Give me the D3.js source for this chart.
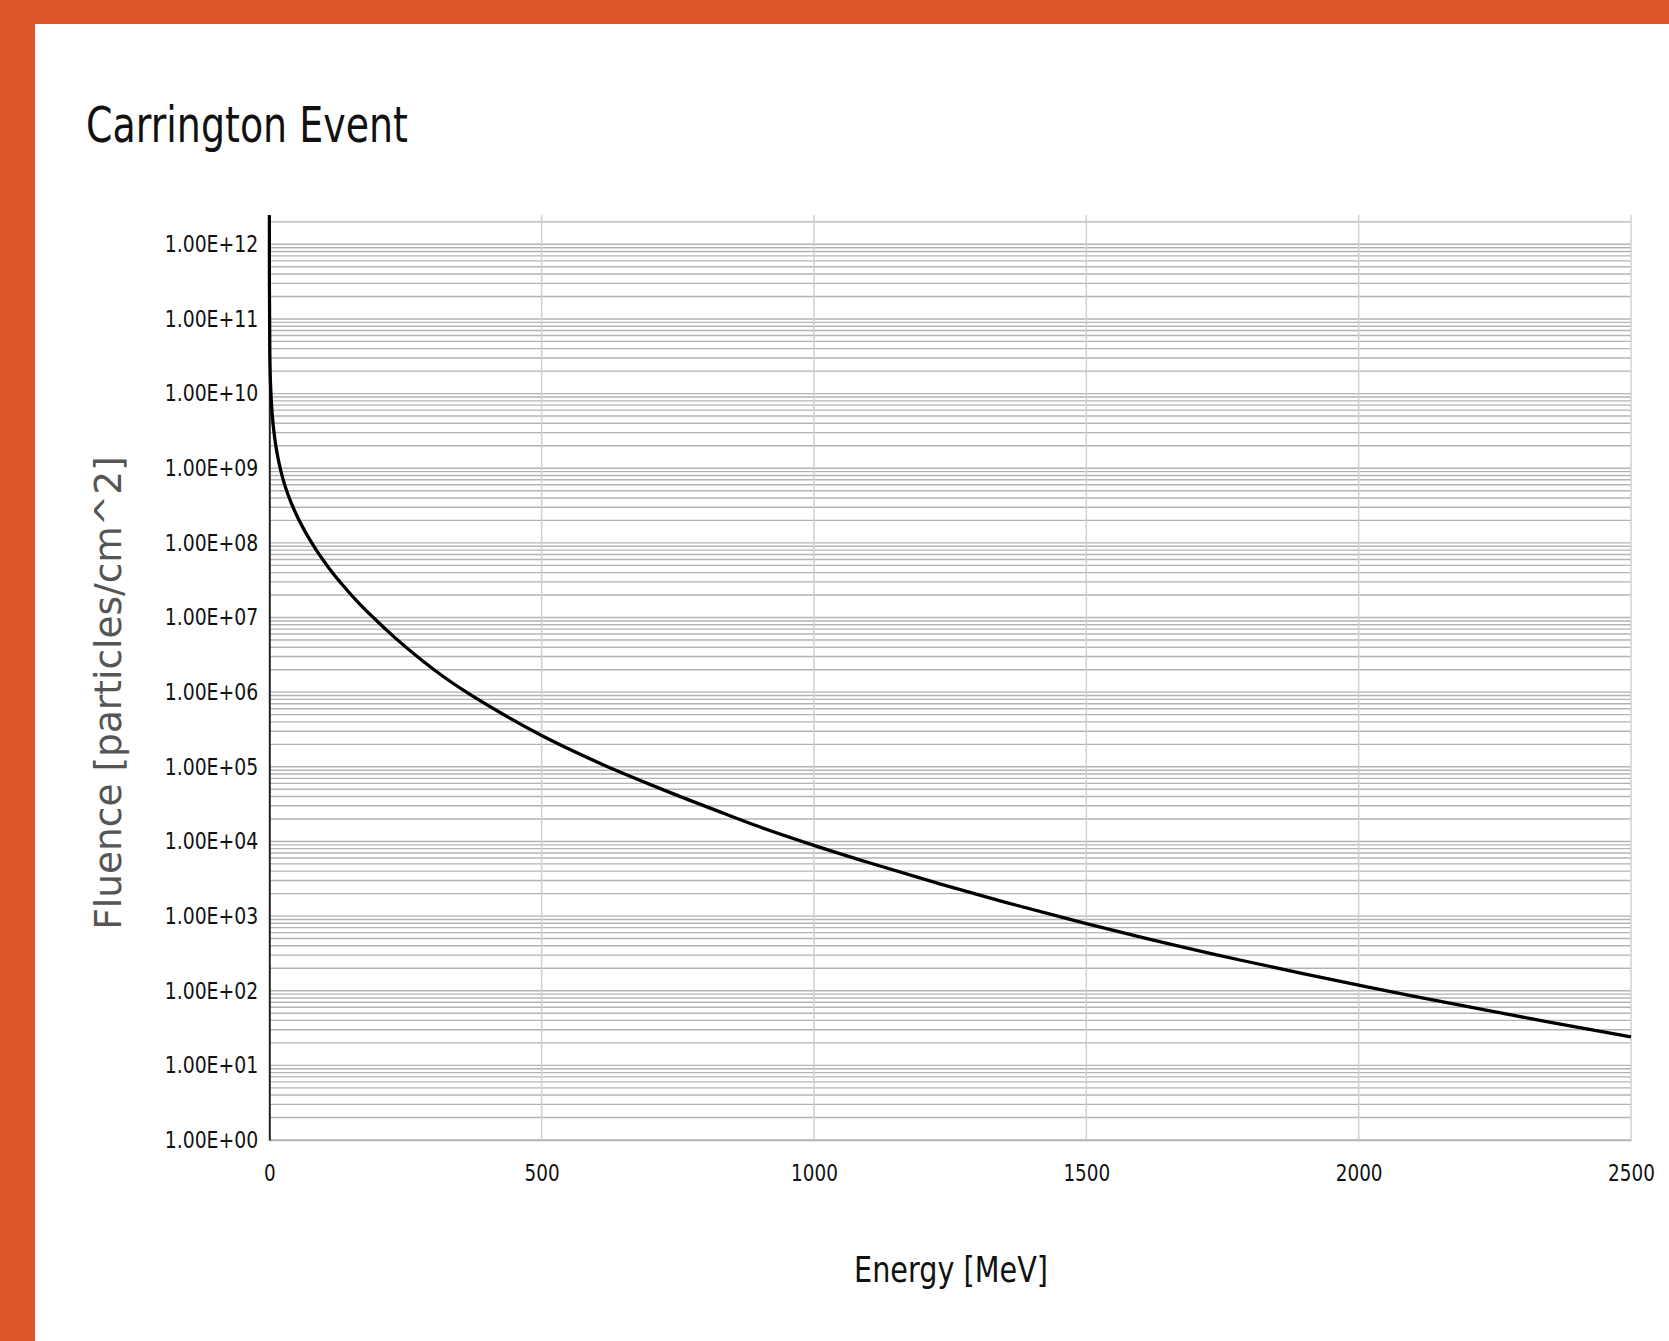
<!DOCTYPE html>
<html>
<head>
<meta charset="utf-8">
<script src="https://cdn.jsdelivr.net/npm/d3@7"></script>
<style>
  body { margin: 0; background: #fff; }
  svg { display: block; }
</style>
</head>
<body>
<div id="chart"></div>
<script>
const WIDTH = 1669, HEIGHT = 1341;
const PLOT = {left: 269.3, right: 1631, top: 215, bottom: 1140};

// energy [MeV] and fluence [particles/cm^2]
const energy = [0.01, 0.1, 1, 3, 5.5, 10, 14, 20, 25, 35, 50, 65, 78, 90, 110, 135, 160, 191,
    230, 280, 320, 362, 430, 500, 560, 620, 680, 735, 833, 900, 1000, 1100, 1231, 1350, 1451,
    1500, 1600, 1782, 1900, 2000, 2100, 2234, 2350, 2500];
const fluence = [3.16e12, 3.16e11, 3.16e10, 1.0e10, 5.12e9, 2.52e9, 1.64e9, 1.0e9, 7.21e8, 4.31e8,
    2.36e8, 1.45e8, 1.0e8, 7.28e7, 4.55e7, 2.71e7, 1.69e7, 1.0e7,
    5.42e6, 2.68e6, 1.61e6, 1.0e6, 5.02e5, 2.63e5, 1.60e5, 1.01e5, 6.61e4, 4.54e4, 2.40e4, 1.57e4,
    8.87e3, 5.22e3, 2.70e3, 1.54e3, 982,
    794, 524, 258, 168, 119, 84.7, 54.8, 38.0, 24.0];

const xTicks = [0, 500, 1000, 1500, 2000, 2500];
const yTicks = [1e0, 1e1, 1e2, 1e3, 1e4, 1e5, 1e6, 1e7, 1e8, 1e9, 1e10, 1e11, 1e12];
const xDomain = [0, 2500];
const yDomain = [1, 2.47e12];

const fmtE = v => {
    const [m, e] = d3.format(".2e")(v).split("e");
    const sign = e[0];
    const digits = e.slice(1).padStart(2, "0");
    return `${m}E${sign}${digits}`;
};

const svg = d3.select("#chart")
    .append("svg")
    .attr("width", WIDTH)
    .attr("height", HEIGHT);

// orange frame
svg.append("rect").attr("width", WIDTH).attr("height", HEIGHT).attr("fill", "#df552c");
svg.append("rect").attr("x", 35).attr("y", 24).attr("width", WIDTH - 35).attr("height", HEIGHT - 24).attr("fill", "#fff");

const x = d3.scaleLinear().domain(xDomain).range([PLOT.left, PLOT.right]);
const y = d3.scaleLog().domain(yDomain).range([PLOT.bottom, PLOT.top]);

// grid
svg.append("g")
    .selectAll("line")
    .data(y.ticks(20))
    .join("line")
    .attr("x1", PLOT.left).attr("x2", PLOT.right)
    .attr("y1", d => y(d)).attr("y2", d => y(d))
    .style("stroke", "#b3b3b3")
    .style("stroke-width", 1.4);

svg.append("g")
    .selectAll("line")
    .data(xTicks.slice(1))
    .join("line")
    .attr("x1", d => x(d)).attr("x2", d => x(d))
    .attr("y1", PLOT.top).attr("y2", PLOT.bottom)
    .style("stroke", "#d0d0d0")
    .style("stroke-width", 1.5);

// axes
const xAxis = svg.append("g")
    .attr("transform", `translate(0,${PLOT.bottom})`)
    .call(d3.axisBottom(x).tickValues(xTicks).tickFormat(d3.format("d")).tickSize(0).tickSizeOuter(0));
xAxis.select(".domain").style("stroke", "#b3b3b3").style("stroke-width", 1.5);
xAxis.selectAll("text")
    .attr("y", 0).attr("dy", null)
    .attr("transform", "translate(0,41) scale(0.8,1)")
    .style("font-family", "'DejaVu Sans'")
    .style("font-size", "23px")
    .style("fill", "#111");

const yAxis = svg.append("g")
    .attr("transform", `translate(${PLOT.left},0)`)
    .call(d3.axisLeft(y).tickValues(yTicks).tickFormat(fmtE).tickSize(0).tickSizeOuter(0));
yAxis.select(".domain").style("stroke", "#222").style("stroke-width", 2);
yAxis.selectAll("text")
    .attr("x", 0)
    .attr("transform", "translate(-11,0) scale(0.82,1)")
    .style("font-family", "'DejaVu Sans'")
    .style("font-size", "23px")
    .style("fill", "#111");

// curve
svg.append("clipPath").attr("id", "plot-clip")
    .append("rect")
    .attr("x", PLOT.left - 2).attr("y", PLOT.top)
    .attr("width", PLOT.right - PLOT.left + 4).attr("height", PLOT.bottom - PLOT.top);

const points = energy.map((e, i) => ({e: e, f: fluence[i]}));
svg.append("path")
    .datum(points)
    .attr("clip-path", "url(#plot-clip)")
    .attr("d", d3.line().x(d => x(d.e)).y(d => y(d.f)).curve(d3.curveMonotoneX))
    .style("fill", "none")
    .style("stroke", "#000")
    .style("stroke-width", 3.3);

// titles
svg.append("text")
    .attr("x", 86).attr("y", 142)
    .attr("textLength", 322).attr("lengthAdjust", "spacingAndGlyphs")
    .style("font-family", "'DejaVu Sans'")
    .style("font-size", "50px")
    .style("fill", "#111")
    .text("Carrington Event");

svg.append("text")
    .attr("x", 951).attr("y", 1282)
    .attr("text-anchor", "middle")
    .attr("textLength", 194).attr("lengthAdjust", "spacingAndGlyphs")
    .style("font-family", "'DejaVu Sans'")
    .style("font-size", "35px")
    .style("fill", "#111")
    .text("Energy [MeV]");

svg.append("text")
    .attr("transform", "translate(121,693) rotate(-90)")
    .attr("text-anchor", "middle")
    .style("font-family", "'DejaVu Sans'")
    .style("font-size", "37.5px")
    .style("fill", "#555")
    .text("Fluence [particles/cm^2]");
</script>
</body>
</html>
